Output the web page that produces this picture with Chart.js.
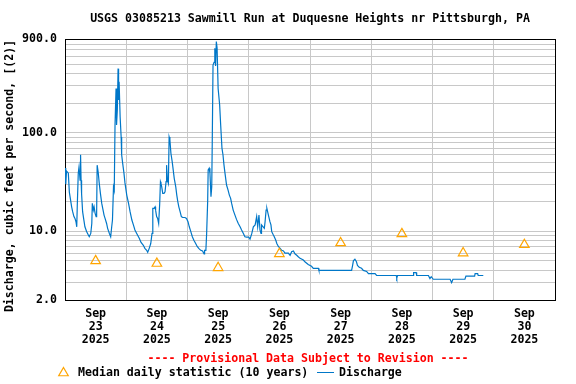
<!DOCTYPE html>
<html>
<head>
<meta charset="utf-8">
<script src="https://cdn.jsdelivr.net/npm/chart.js@4"></script>
<style>
  html, body { margin: 0; padding: 0; background: #fff; }
  canvas { display: block; }
</style>
</head>
<body>
<canvas id="chart-flow" width="576" height="384"></canvas>
<script>
// hours since Sep 23 00:00 and discharge (ft3/s)
const flowHours = [
  0, 0.3, 0.6, 1.3, 1.7, 2.6, 3.0, 3.5, 3.9, 4.3, 4.6, 4.8, 5.2, 5.5, 5.9, 6.1, 6.3, 6.5, 6.9, 7.4,
  7.8, 8.5, 9.1, 9.5, 10.1, 10.5, 10.7, 11.1, 11.4, 11.8, 12.2, 12.4, 12.6, 13.0, 13.4, 13.9, 14.4, 14.8, 15.3, 15.7,
  16.3, 16.7, 17.4, 17.9, 18.3, 18.6, 19.0, 19.3, 19.6, 20.0, 20.2, 20.5, 20.8, 21.0, 21.2, 21.6, 22.0, 22.2, 22.6, 23.1,
  23.5, 24.2, 24.9, 25.5, 26.2, 26.8, 27.4, 28.1, 29.1, 29.8, 30.7, 31.3, 32.0, 32.4, 33.0, 33.6, 34.1, 34.4, 34.9, 35.3,
  35.5, 35.9, 36.3, 36.7, 37.1, 37.4, 37.6, 37.9, 38.3, 38.8, 39.2, 39.6, 39.8, 40.1, 40.5, 40.8, 41.1, 41.5, 42.0, 42.4,
  42.8, 43.4, 43.8, 44.2, 44.6, 45.1, 45.6, 46.1, 47.0, 47.6, 48.2, 48.7, 49.3, 49.9, 50.5, 51.2, 51.8, 52.4, 53.2, 53.9,
  54.5, 54.7, 55.2, 55.5, 55.9, 56.1, 56.5, 56.8, 57.2, 57.5, 57.7, 58.0, 58.4, 58.7, 59.0, 59.3, 59.6, 60.0, 60.6, 61.0,
  61.5, 61.9, 62.3, 62.7, 63.3, 63.9, 64.4, 64.9, 65.3, 65.9, 66.6, 67.2, 67.9, 68.6, 69.2, 69.9, 70.5, 71.2, 72.0, 72.5,
  73.2, 73.8, 74.5, 75.1, 75.5, 76.0, 76.4, 76.8, 77.0, 78.1, 78.4, 78.8, 79.1, 79.7, 80.3, 80.7, 81.0, 81.6, 82.0, 82.6,
  83.0, 83.6, 84.3, 84.9, 85.6, 86.2, 87.5, 88.2, 88.8, 89.5, 90.1, 90.8, 91.4, 92.1, 93.4, 94.0, 95.3, 96.6, 97.3, 99.3,
  99.5, 112.3, 112.7, 113.0, 113.6, 114.2, 114.6, 115.3, 116.2, 116.9, 118.2, 118.9, 121.5, 122.1, 129.8, 130.0, 130.3, 136.5, 136.6, 137.6,
  137.8, 142.4, 143.0, 143.5, 144.3, 150.9, 151.5, 152.0, 156.7, 157.1, 160.5, 160.7, 161.7, 161.9, 163.9
];
const flowValues = [
  44, 30, 41, 39, 25, 17.7, 15.8, 14.1, 13.5, 12.5, 11.1, 17.7, 39, 45, 33, 60, 33, 24, 15.8, 13,
  11.1, 9.9, 9.2, 8.8, 9.5, 12, 19.2, 16.4, 17.7, 15.2, 14.1, 15.8, 47, 40, 31, 24, 19.2, 17, 14.6, 13.5,
  12, 10.7, 9.5, 8.8, 11.1, 13, 28, 26, 120, 283, 120, 171, 450, 216, 331, 146, 91, 60, 49, 39,
  31, 23.3, 19.2, 15.8, 13, 11.6, 10.3, 9.5, 8.5, 7.7, 7.2, 6.7, 6.4, 6.1, 6.7, 7.5, 9.5, 17.1, 17.1, 17.7,
  16.4, 14.1, 13.5, 12, 18.9, 31.9, 30.7, 28.3, 24.3, 24.3, 25.2, 31.9, 47, 33.2, 30.7, 91, 85, 62, 51, 42,
  34.5, 28.3, 23.3, 20, 17.7, 15.8, 14.1, 13.8, 13.8, 13.5, 12.5, 11.1, 9.9, 8.8, 8.1, 7.5, 7.0, 6.7, 6.4, 6.3,
  5.9, 6.4, 6.4, 9.5, 20, 41.9, 43.6, 38.8, 22.4, 28.3, 81, 489, 520, 723, 480, 850, 723, 283, 192, 120,
  70, 60, 47, 38.8, 29.5, 26.2, 23.3, 21.6, 19.2, 16.4, 14.6, 13.2, 12, 11.1, 10.3, 9.5, 8.8, 8.7, 8.7, 8.3,
  9.5, 11.1, 11.6, 14.1, 11.1, 14.6, 10.3, 9.5, 11.6, 10.7, 12.5, 16.4, 17.1, 14.6, 12.5, 11.6, 9.9, 9.2, 8.8, 8.1,
  7.5, 7.0, 6.7, 6.4, 6.3, 6.0, 6.0, 5.7, 6.2, 6.3, 5.9, 5.7, 5.5, 5.3, 5.1, 4.9, 4.6, 4.4, 4.2, 4.2,
  4.0, 4.0, 4.5, 5.0, 5.2, 4.9, 4.5, 4.3, 4.2, 4.0, 3.9, 3.7, 3.7, 3.55, 3.55, 3.35, 3.55, 3.55, 3.8, 3.8,
  3.55, 3.55, 3.3, 3.45, 3.25, 3.25, 3.0, 3.25, 3.25, 3.5, 3.5, 3.7, 3.7, 3.55, 3.55
];

// median daily statistic, plotted at noon of each day
const medianHours = [12, 36, 60, 84, 108, 132, 156, 180];
const medianValues = [5.0, 4.7, 4.25, 5.9, 7.6, 9.4, 6.0, 7.3];

const monthLabel = 'Sep';
const yearLabel = '2025';
const dayLabels = ['23', '24', '25', '26', '27', '28', '29', '30'];

const yGridValues = [2, 3, 4, 5, 6, 7, 8, 9, 10, 20, 30, 40, 50, 60, 70, 80, 90, 100, 200, 300, 400, 500, 600, 700, 800, 900];
const yLabelValues = [2, 10, 100, 900];

const titleText = 'USGS 03085213 Sawmill Run at Duquesne Heights nr Pittsburgh, PA';
const yTitleText = 'Discharge, cubic feet per second, [(2)]';
const noteText = '---- Provisional Data Subject to Revision ----';
const medianLegend = 'Median daily statistic (10 years)';
const flowLegend = 'Discharge';

const FONT = '"DejaVu Sans Mono", "Liberation Mono", monospace';
const FLOW_COLOR = '#0077c8';
const MEDIAN_COLOR = '#ffa500';
const GRID_COLOR = '#c8c8c8';

const drawTriangle = (ctx, x, y, r) => {
  ctx.beginPath();
  ctx.moveTo(x, y - r);
  ctx.lineTo(x + r * Math.cos(Math.PI / 6), y + r / 2);
  ctx.lineTo(x - r * Math.cos(Math.PI / 6), y + r / 2);
  ctx.closePath();
  ctx.stroke();
};

// y title, provisional note and legend
const annotationsPlugin = {
  id: 'annotations',
  afterDraw(chart) {
    const ctx = chart.ctx;
    ctx.save();
    ctx.font = 'bold 11.6px ' + FONT;
    ctx.textBaseline = 'middle';

    ctx.save();
    ctx.translate(10, 176);
    ctx.rotate(-Math.PI / 2);
    ctx.fillStyle = '#000';
    ctx.textAlign = 'center';
    ctx.fillText(yTitleText, 0, 0);
    ctx.restore();

    ctx.fillStyle = '#ff0000';
    ctx.textAlign = 'center';
    ctx.fillText(noteText, 308, 359);

    ctx.textAlign = 'left';
    ctx.strokeStyle = MEDIAN_COLOR;
    ctx.lineWidth = 1.2;
    drawTriangle(ctx, 63.5, 373, 5.5);
    ctx.fillStyle = '#000';
    ctx.fillText(medianLegend, 78, 373);

    ctx.strokeStyle = FLOW_COLOR;
    ctx.lineWidth = 1;
    ctx.beginPath();
    ctx.moveTo(317, 372.5);
    ctx.lineTo(334, 372.5);
    ctx.stroke();
    ctx.fillText(flowLegend, 339, 373);
    ctx.restore();
  }
};

new Chart(document.getElementById('chart-flow'), {
  type: 'line',
  data: {
    datasets: [
      {
        label: medianLegend,
        data: medianHours.map((h, i) => ({ x: h, y: medianValues[i] })),
        showLine: false,
        pointStyle: 'triangle',
        pointRadius: 5.5,
        pointBorderWidth: 1.2,
        pointBorderColor: MEDIAN_COLOR,
        pointBackgroundColor: 'rgba(0,0,0,0)'
      },
      {
        label: flowLegend,
        data: flowHours.map((h, i) => ({ x: h, y: flowValues[i] })),
        borderColor: FLOW_COLOR,
        borderWidth: 1.2,
        pointRadius: 0,
        tension: 0,
        fill: false
      }
    ]
  },
  options: {
    responsive: false,
    animation: false,
    devicePixelRatio: 1,
    layout: { padding: { left: 0, right: 21, top: 0, bottom: 40 } },
    plugins: {
      legend: { display: false },
      tooltip: { enabled: false },
      title: {
        display: true,
        fullSize: false,
        text: titleText,
        color: '#000',
        font: { family: FONT, size: 11.6, weight: 'bold' },
        padding: { top: 11.7, bottom: 13.4 }
      }
    },
    scales: {
      x: {
        type: 'linear',
        min: 0,
        max: 192,
        afterFit: (scale) => { scale.height = 44; },
        border: { display: true, color: '#000', width: 1 },
        grid: {
          drawTicks: false,
          lineWidth: 1,
          color: (c) => {
            const v = c.tick.value;
            if (v === 0 || v === 192) return '#000';
            return v % 24 === 0 ? GRID_COLOR : 'rgba(0,0,0,0)';
          }
        },
        ticks: {
          stepSize: 12,
          autoSkip: false,
          maxRotation: 0,
          padding: 7.6,
          color: '#000',
          font: { family: FONT, size: 11.6, weight: 'bold', lineHeight: '12.8px' },
          callback: (value) => {
            if (value % 24 !== 12) return '';
            return [monthLabel, dayLabels[(value - 12) / 24], yearLabel];
          }
        }
      },
      y: {
        type: 'logarithmic',
        min: 2,
        max: 900,
        afterFit: (scale) => { scale.width = 65; },
        afterBuildTicks: (scale) => {
          scale.ticks = yGridValues.map(v => ({ value: v }));
        },
        border: { display: true, color: '#000', width: 1 },
        grid: {
          drawTicks: false,
          lineWidth: 1,
          color: (c) => (c.tick.value === 900 || c.tick.value === 2) ? '#000' : GRID_COLOR
        },
        ticks: {
          autoSkip: false,
          padding: 8,
          color: '#000',
          font: { family: FONT, size: 11.6, weight: 'bold' },
          callback: (value) => yLabelValues.includes(value) ? value.toFixed(1) : ''
        }
      }
    }
  },
  plugins: [annotationsPlugin]
});
</script>
</body>
</html>
